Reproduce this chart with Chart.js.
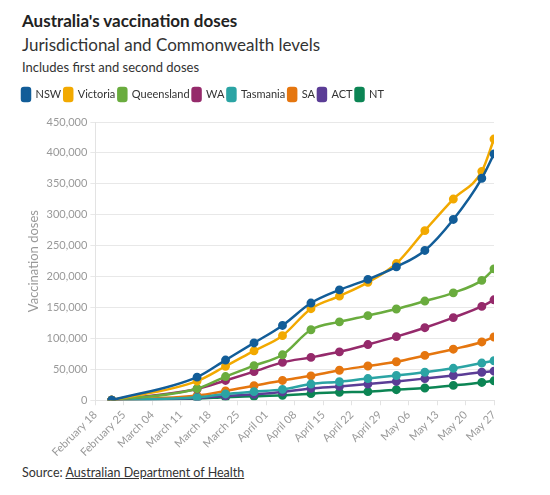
<!DOCTYPE html>
<html lang="en">
<head>
<meta charset="UTF-8">
<title>Australia's vaccination doses</title>
<script src="https://cdn.jsdelivr.net/npm/chart.js@4.4.0/dist/chart.umd.min.js"></script>
<style>
  body { margin: 0; background: #fff; font-family: Lato, "Noto Sans", sans-serif; color: #222; }
  #wrap { position: relative; width: 550px; height: 495px; overflow: hidden; }
  .t { position: absolute; left: 22px; white-space: nowrap; }
  #title { top: 10px; font-size: 17px; font-weight: 700; color: #222; }
  #sub { top: 34px; font-size: 17px; color: #333; }
  #note { top: 59px; font-size: 13px; color: #333; }
  #src { top: 465px; font-size: 12.5px; color: #333; }
  #src span { text-decoration: underline; }
  #box { position: absolute; left: 0; top: 85px; width: 550px; height: 377px; }
</style>
</head>
<body>
<div id="wrap">
  <div class="t" id="title">Australia's vaccination doses</div>
  <div class="t" id="sub">Jurisdictional and Commonwealth levels</div>
  <div class="t" id="note">Includes first and second doses</div>
  <div id="box"><canvas id="chart"></canvas></div>
  <div class="t" id="src">Source: <span>Australian Department of Health</span></div>
</div>
<script>
// dates of each reading
const dates = ["2021-02-22","2021-03-15","2021-03-22","2021-03-29","2021-04-05","2021-04-12",
  "2021-04-19","2021-04-26","2021-05-03","2021-05-10","2021-05-17","2021-05-24","2021-05-27"];
const axisStart = "2021-02-18";
const axisEnd = "2021-05-27";

const states = ["NSW","Victoria","Queensland","WA","Tasmania","SA","ACT","NT"];
const colors = ["#125d98","#f2a900","#6aac3e","#952a6b","#2ba4a4","#e5760f","#5b3d96","#0c8554"];

const nsw = [0, 37400, 65000, 92700, 121000, 157200, 178500, 195500, 215700, 242300, 292400, 359000, 398400];
const vic = [0, 31000, 55000, 80000, 104500, 148100, 168400, 190700, 221100, 274300, 325400, 370200, 422400];
const qld = [0, 18700, 38300, 56000, 73500, 114000, 126800, 136900, 147600, 160400, 173700, 193900, 212500];
const wa  = [0, 18200, 32000, 46300, 61300, 69300, 78300, 90100, 102900, 117300, 133700, 151800, 162500];
const tas = [0, 4800, 10200, 13900, 17600, 26200, 29900, 35100, 40000, 45300, 51700, 60200, 63900];
const sa  = [0, 7500, 15000, 23500, 32000, 39500, 48500, 55400, 62300, 72500, 82600, 94300, 102300];
const act = [0, 3800, 7000, 9600, 13400, 19200, 22400, 26200, 30400, 35100, 40000, 45300, 47000];
const nt  = [0, 2700, 4800, 6400, 8000, 10700, 12800, 13900, 17100, 19800, 24000, 28800, 31500];
const series = [nsw, vic, qld, wa, tas, sa, act, nt];

const monthNames = ["January","February","March","April","May","June","July","August","September","October","November","December"];
const DAY = 86400000;
const t0 = Date.parse(axisStart);
function dayOf(s) { return Math.round((Date.parse(s) - t0) / DAY); }
function dayLabel(n) {
  const d = new Date(t0 + n * DAY);
  return monthNames[d.getUTCMonth()] + " " + String(d.getUTCDate()).padStart(2, "0");
}

const grey = "#999";
Chart.defaults.font.family = "Lato, 'Noto Sans', sans-serif";

// extra room under the legend
const legendGap = {
  id: "legendGap",
  beforeInit(chart) {
    const fit = chart.legend.fit;
    chart.legend.fit = function () {
      fit.bind(chart.legend)();
      this.height += 11;
    };
  }
};

new Chart(document.getElementById("chart"), {
  type: "line",
  data: {
    datasets: states.map((name, i) => ({
      label: name,
      data: series[i].map((v, j) => ({ x: dayOf(dates[j]), y: v })),
      borderColor: colors[i],
      backgroundColor: colors[i],
      borderWidth: 2.5,
      pointRadius: 3.2,
      pointHoverRadius: 4,
      cubicInterpolationMode: "monotone"
    }))
  },
  options: {
    responsive: true,
    maintainAspectRatio: false,
    animation: false,
    layout: { padding: { left: 19, right: 56, top: 0, bottom: 0 } },
    plugins: {
      legend: {
        position: "top",
        align: "start",
        labels: {
          boxWidth: 8,
          boxHeight: 13,
          useBorderRadius: true,
          borderRadius: 2,
          padding: 3,
          color: "#333",
          font: { size: 11 }
        }
      },
      tooltip: { enabled: false }
    },
    scales: {
      x: {
        type: "linear",
        min: 0,
        max: dayOf(axisEnd),
        ticks: {
          stepSize: 7,
          color: grey,
          font: { size: 11 },
          minRotation: 45,
          maxRotation: 45,
          callback: v => dayLabel(v)
        },
        grid: { drawOnChartArea: false, drawTicks: true, tickLength: 5, color: "#e3e3e3" },
        border: { color: "#e3e3e3" }
      },
      y: {
        min: 0,
        max: 450000,
        ticks: {
          stepSize: 50000,
          color: grey,
          font: { size: 11 },
          padding: 3,
          callback: v => v.toLocaleString("en-US")
        },
        grid: { color: "#e8e8e8", tickLength: 5 },
        border: { color: "#e3e3e3" },
        title: { display: true, text: "Vaccination doses", color: grey, font: { size: 13 }, padding: { top: 7, bottom: 2 } }
      }
    }
  },
  plugins: [legendGap]
});
</script>
</body>
</html>
